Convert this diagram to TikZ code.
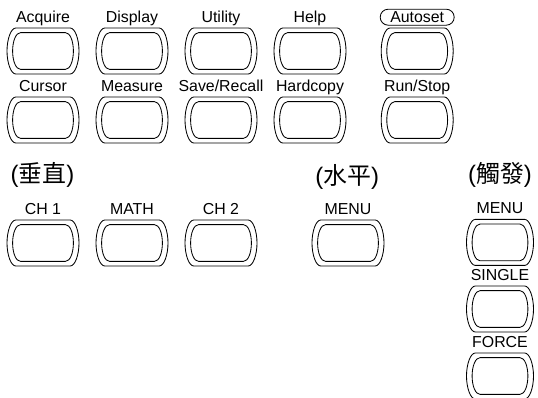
\documentclass[tikz,border=0pt]{standalone}
\usepackage{fontspec}
\setmainfont{Liberation Sans}
\newfontfamily\cjk{Noto Sans CJK TC}
\usetikzlibrary{positioning}
\tikzset{
  every picture/.style={line width=0.6pt},
  pad/.style={minimum width=#1cm, minimum height=1.15cm, inner sep=0pt},
  pad/.default=1.775,
  knob/.pic={
    \draw (-#1/2+0.22,0.575) -- (#1/2-0.22,0.575)
      .. controls (#1/2-0.1,0.575) and (#1/2,0.3) .. (#1/2,0)
      .. controls (#1/2,-0.3) and (#1/2-0.1,-0.575) .. (#1/2-0.22,-0.575)
      -- (-#1/2+0.22,-0.575)
      .. controls (-#1/2+0.1,-0.575) and (-#1/2,-0.3) .. (-#1/2,0)
      .. controls (-#1/2,0.3) and (-#1/2+0.1,0.575) .. (-#1/2+0.22,0.575) -- cycle;
    \draw (-#1/2+0.34,0.46) -- (#1/2-0.34,0.46)
      .. controls (#1/2-0.22,0.46) and (#1/2-0.14,0.24) .. (#1/2-0.14,0)
      .. controls (#1/2-0.14,-0.24) and (#1/2-0.22,-0.46) .. (#1/2-0.34,-0.46)
      -- (-#1/2+0.34,-0.46)
      .. controls (-#1/2+0.22,-0.46) and (-#1/2+0.14,-0.24) .. (-#1/2+0.14,0)
      .. controls (-#1/2+0.14,0.24) and (-#1/2+0.22,0.46) .. (-#1/2+0.34,0.46) -- cycle;
  },
  lbl/.style={font=\fontsize{11.3}{13}\selectfont, inner sep=0pt},
  grp/.style={font=\fontsize{17}{20}\selectfont, inner sep=0pt},
}
\newcommand{\btn}[5]{%
  \node[pad=#5] (#3) at (#1,#2) {};
  \pic at (#3.center) {knob=#5};
  \node[lbl, above=0.125cm of #3, anchor=base] (#3-t) {#4};
}

\begin{document}
\begin{tikzpicture}
  \useasboundingbox (0,0) rectangle (13.45,-9.925);
  % menu keys
  \foreach \n/\t [count=\i] in {acq/Acquire, disp/Display, util/Utility, help/Help}
    {\btn{-1.15+2.225*\i}{-1.275}{\n}{\t}{1.8}}
  \foreach \n/\t [count=\i] in {cur/Cursor, meas/Measure, save/Save\slash Recall, hard/Hardcopy}
    {\btn{-1.15+2.225*\i}{-3.0}{\n}{\t}{1.8}}
  \btn{10.43}{-1.275}{auto}{Autoset}{1.8}
  \node[draw, rounded corners=0.2cm, minimum width=1.85cm, minimum height=0.4cm, inner sep=0pt] (auto-o) at (auto-t.center) {};
  \btn{10.43}{-3.0}{run}{Run/Stop}{1.8}
  % vertical
  \node[grp] (vert) at (1.06,-4.375) {(\cjk 垂直\rm)};
  \foreach \n/\t [count=\i] in {ch1/CH 1, math/MATH, ch2/CH 2}
    {\btn{-1.15+2.225*\i}{-6.075}{\n}{\t}{1.8}}
  % horizontal
  \node[grp] (horz) at (8.68,-4.42) {(\cjk 水平\rm)};
  \btn{8.7}{-6.075}{hmenu}{MENU}{1.8}
  % trigger
  \node[grp] (trig) at (12.5,-4.375) {(\cjk 觸發\rm)};
  \foreach \n/\t/\y in {tmenu/MENU/-6.06, single/SINGLE/-7.725, force/FORCE/-9.4}
    {\btn{12.5}{\y}{\n}{\t}{1.675}}
\end{tikzpicture}
\end{document}
